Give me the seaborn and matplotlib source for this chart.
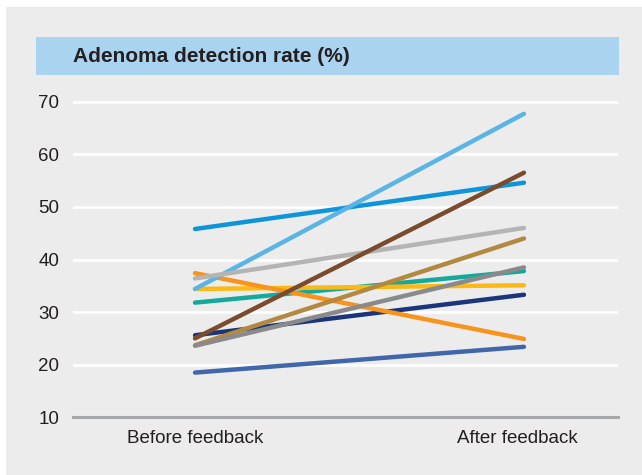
import matplotlib
matplotlib.use("Agg")
import matplotlib.pyplot as plt
import matplotlib.transforms as mtransforms
from matplotlib.patches import Rectangle
import seaborn as sns
import pandas as pd

# ---- data ----
endoscopists = ["E1", "E2", "E3", "E4", "E5", "E6", "E7", "E8", "E9", "E10", "E11"]
before = [25.6, 45.8, 31.8, 34.4, 37.4, 34.4, 18.5, 36.4, 23.7, 23.6, 25.0]
after = [33.3, 54.6, 37.8, 35.1, 24.9, 67.7, 23.4, 46.0, 44.0, 38.5, 56.5]
colors = ["#1B357A", "#0E95D9", "#15A99B", "#FDB913", "#F7941D", "#5AB4E5",
          "#4266AA", "#B4B4B4", "#B38840", "#8A8A8C", "#7A4B2C"]
phase_labels = ["Before feedback", "After feedback"]
y_ticks = [10, 20, 30, 40, 50, 60, 70]
title = "Adenoma detection rate (%)"

rows = []
for name, b, a in zip(endoscopists, before, after):
    rows.append({"id": name, "phase": 0, "adr": b})
    rows.append({"id": name, "phase": 1, "adr": a})
df = pd.DataFrame(rows)

sns.set_theme(style="white")
plt.rcParams["font.family"] = ["Liberation Sans Narrow", "Liberation Sans", "DejaVu Sans"]
text_color = "#231F20"

W, H = 642, 475
fig = plt.figure(figsize=(W / 100, H / 100), dpi=100)
fig.patch.set_facecolor("white")

def px(x0, y0, x1, y1):
    return (x0 / W, 1 - y1 / H, (x1 - x0) / W, (y1 - y0) / H)

# gray panel
l, b_, w, h = px(6, 7, 642, 475)
fig.patches.append(Rectangle((l, b_), w, h, transform=fig.transFigure,
                             facecolor="#EBECEB", edgecolor="none", zorder=-2))
# title bar
l, b_, w, h = px(36, 37, 619, 75)
fig.patches.append(Rectangle((l, b_), w, h, transform=fig.transFigure,
                             facecolor="#A9D3EF", edgecolor="none", zorder=-1))
fig.text(73 / W, 1 - 56 / H, title, fontsize=15, fontweight="bold",
         color=text_color, va="center", ha="left")

# axes
y_top_px = 99.07
y_bot_px = 417.3
ax = fig.add_axes(px(73, y_top_px, 618, y_bot_px))
ax.set_facecolor("none")

sns.lineplot(data=df, x="phase", y="adr", hue="id", hue_order=endoscopists,
             palette=colors, linewidth=3.2, legend=False, ax=ax,
             solid_capstyle="round", zorder=3)

ax.set_ylim(10, 70.5)
ax.set_xlim(-0.371, 1.286)
ax.set_yticks(y_ticks)
ax.set_xticks([0, 1])
ax.set_xticklabels(phase_labels)
ax.grid(axis="y", color="white", linewidth=2.0, zorder=1)
ax.grid(axis="x", visible=False)
for s in ["top", "right", "left"]:
    ax.spines[s].set_visible(False)
ax.spines["bottom"].set_color("#A7A8AA")
ax.spines["bottom"].set_linewidth(2.2)
ax.spines["bottom"].set_zorder(2)
ax.tick_params(axis="y", length=0, pad=10, labelsize=13.5, labelcolor=text_color)
ax.tick_params(axis="x", length=0, pad=9, labelsize=13.5, labelcolor=text_color)
ax.set_xlabel("")
ax.set_ylabel("")

# nudge the second category label slightly left like the reference
lab = ax.get_xticklabels()[1]
lab.set_transform(lab.get_transform() + mtransforms.ScaledTranslation(-7 / 100, 0, fig.dpi_scale_trans))

fig.savefig("out.png", dpi=100, facecolor=fig.get_facecolor())
